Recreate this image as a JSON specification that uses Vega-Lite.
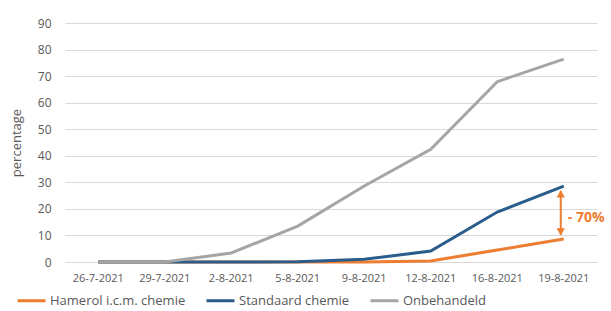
{
  "$schema": "https://vega.github.io/schema/vega-lite/v6.json",
  "width": 532,
  "height": 239,
  "autosize": "none",
  "padding": {"left": 65, "top": 23, "right": 14, "bottom": 49},
  "config": {
    "view": {"stroke": null},
    "font": "Open Sans",
    "axis": {"labelColor": "#595959", "titleColor": "#595959", "labelFont": "Open Sans", "titleFont": "Open Sans"}
  },
  "datasets": {
    "series": [
      {"datum": "26-7-2021", "reeks": "Hamerol i.c.m. chemie", "waarde": 0},
      {"datum": "29-7-2021", "reeks": "Hamerol i.c.m. chemie", "waarde": 0},
      {"datum": "2-8-2021", "reeks": "Hamerol i.c.m. chemie", "waarde": 0},
      {"datum": "5-8-2021", "reeks": "Hamerol i.c.m. chemie", "waarde": 0},
      {"datum": "9-8-2021", "reeks": "Hamerol i.c.m. chemie", "waarde": 0},
      {"datum": "12-8-2021", "reeks": "Hamerol i.c.m. chemie", "waarde": 0.4},
      {"datum": "16-8-2021", "reeks": "Hamerol i.c.m. chemie", "waarde": 4.5},
      {"datum": "19-8-2021", "reeks": "Hamerol i.c.m. chemie", "waarde": 8.7},
      {"datum": "26-7-2021", "reeks": "Standaard chemie", "waarde": 0},
      {"datum": "29-7-2021", "reeks": "Standaard chemie", "waarde": 0},
      {"datum": "2-8-2021", "reeks": "Standaard chemie", "waarde": 0},
      {"datum": "5-8-2021", "reeks": "Standaard chemie", "waarde": 0.1},
      {"datum": "9-8-2021", "reeks": "Standaard chemie", "waarde": 1},
      {"datum": "12-8-2021", "reeks": "Standaard chemie", "waarde": 4.1},
      {"datum": "16-8-2021", "reeks": "Standaard chemie", "waarde": 18.8},
      {"datum": "19-8-2021", "reeks": "Standaard chemie", "waarde": 28.6},
      {"datum": "26-7-2021", "reeks": "Onbehandeld", "waarde": 0},
      {"datum": "29-7-2021", "reeks": "Onbehandeld", "waarde": 0},
      {"datum": "2-8-2021", "reeks": "Onbehandeld", "waarde": 3.4},
      {"datum": "5-8-2021", "reeks": "Onbehandeld", "waarde": 13.5},
      {"datum": "9-8-2021", "reeks": "Onbehandeld", "waarde": 28.6},
      {"datum": "12-8-2021", "reeks": "Onbehandeld", "waarde": 42.4},
      {"datum": "16-8-2021", "reeks": "Onbehandeld", "waarde": 67.9},
      {"datum": "19-8-2021", "reeks": "Onbehandeld", "waarde": 76.4}
    ],
    "pijl": [
      {"datum": "19-8-2021", "van": 10.2, "tot": 26.8, "label": "- 70%", "midden": 16.5}
    ]
  },
  "encoding": {
    "x": {
      "field": "datum", "type": "ordinal",
      "scale": {"type": "band", "paddingInner": 0, "paddingOuter": 0, "domain": ["26-7-2021","29-7-2021","2-8-2021","5-8-2021","9-8-2021","12-8-2021","16-8-2021","19-8-2021"]},
      "axis": {"title": null, "labelAngle": 0, "ticks": false, "labelFontSize": 11, "labelPadding": 10, "domainColor": "#d9d9d9", "domainWidth": 1, "grid": false, "labelOverlap": false}
    },
    "y": {
      "field": "waarde", "type": "quantitative",
      "scale": {"domain": [0, 90], "nice": false},
      "axis": {"values": [0,10,20,30,40,50,60,70,80,90], "labelOverlap": false, "title": "percentage", "titleFontSize": 13, "titleFontWeight": "normal", "titlePadding": 14, "labelFontSize": 12, "labelPadding": 14, "ticks": false, "domain": false, "gridColor": "#d9d9d9", "gridWidth": 1}
    }
  },
  "layer": [
    {
      "data": {"name": "series"},
      "mark": {"type": "line", "strokeWidth": 3},
      "encoding": {
        "color": {
          "field": "reeks", "type": "nominal",
          "scale": {"domain": ["Hamerol i.c.m. chemie", "Standaard chemie", "Onbehandeld"], "range": ["#ED7D31", "#2A5D8C", "#A5A5A5"]},
          "legend": {"title": null, "orient": "none", "legendX": -49, "legendY": 262, "direction": "horizontal", "symbolType": "stroke", "symbolSize": 784, "symbolStrokeWidth": 3, "labelFontSize": 13, "labelColor": "#595959", "columnPadding": 14, "labelOffset": 3, "labelLimit": 200}
        }
      }
    },
    {
      "data": {"name": "pijl"},
      "mark": {"type": "rule", "color": "#ED7D31", "strokeWidth": 2, "xOffset": -3},
      "encoding": {
        "y": {"field": "van", "type": "quantitative"},
        "y2": {"field": "tot"}
      }
    },
    {
      "data": {"name": "pijl"},
      "mark": {"type": "point", "shape": "triangle-up", "filled": true, "color": "#ED7D31", "size": 70, "opacity": 1, "xOffset": -3, "yOffset": 3},
      "encoding": {
        "y": {"field": "tot", "type": "quantitative"}
      }
    },
    {
      "data": {"name": "pijl"},
      "mark": {"type": "point", "shape": "triangle-down", "filled": true, "color": "#ED7D31", "size": 70, "opacity": 1, "xOffset": -3, "yOffset": -3},
      "encoding": {
        "y": {"field": "van", "type": "quantitative"}
      }
    },
    {
      "data": {"name": "pijl"},
      "mark": {"type": "text", "color": "#ED7D31", "fontWeight": "bold", "fontSize": 14, "align": "left", "baseline": "middle", "dx": 4},
      "encoding": {
        "y": {"field": "midden", "type": "quantitative"},
        "text": {"field": "label"}
      }
    }
  ]
}
